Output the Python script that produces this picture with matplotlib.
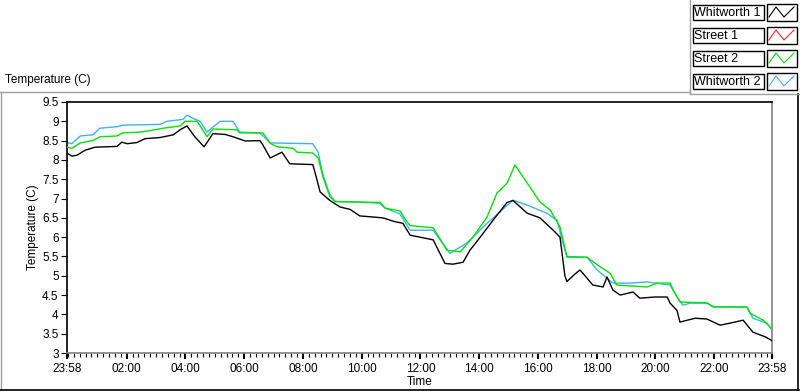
import numpy as np
import matplotlib.pyplot as plt

plt.rcParams['font.family'] = ['Liberation Sans', 'DejaVu Sans']
plt.rcParams['font.size'] = 8

# minutes since 23:58, temperature (C)
w1_min = [0, 10, 20, 37, 57, 102, 112, 123, 143, 159, 190, 217, 231, 245, 261, 280, 298,
          323, 339, 364, 394, 400, 415, 439, 455, 502, 507, 517, 537, 558, 578, 598, 645,
          670, 686, 701, 721, 748, 772, 788, 809, 823, 844, 874, 899, 911, 940, 966, 993,
          1007, 1017, 1021, 1038, 1048, 1074, 1095, 1103, 1115, 1130, 1156, 1170, 1201,
          1226, 1232, 1246, 1252, 1283, 1307, 1334, 1364, 1381, 1401, 1426, 1440]
w1_temp = [8.18, 8.10, 8.12, 8.25, 8.33, 8.35, 8.46, 8.42, 8.45, 8.55, 8.58, 8.65, 8.78,
           8.88, 8.60, 8.34, 8.68, 8.66, 8.60, 8.49, 8.50, 8.39, 8.05, 8.20, 7.90, 7.88,
           7.66, 7.17, 6.95, 6.78, 6.72, 6.55, 6.50, 6.40, 6.36, 6.05, 6.00, 5.93, 5.32,
           5.30, 5.35, 5.66, 6.00, 6.50, 6.90, 6.95, 6.62, 6.50, 6.18, 6.00, 5.00, 4.85,
           5.05, 5.15, 4.76, 4.71, 4.97, 4.63, 4.50, 4.58, 4.42, 4.45, 4.45, 4.29, 4.10,
           3.80, 3.90, 3.88, 3.72, 3.80, 3.85, 3.54, 3.42, 3.32]

s1_min = []
s1_temp = []

s2_min = [0, 10, 27, 53, 67, 102, 114, 149, 170, 196, 231, 241, 266, 286, 298, 347, 353,
          400, 415, 429, 462, 470, 502, 513, 523, 537, 547, 639, 650, 680, 694, 701, 748,
          776, 803, 829, 858, 878, 899, 915, 940, 966, 987, 1007, 1021, 1062, 1089, 1109,
          1123, 1185, 1205, 1232, 1238, 1252, 1307, 1320, 1389, 1395, 1422, 1440]
s2_temp = [8.33, 8.30, 8.44, 8.50, 8.60, 8.62, 8.70, 8.72, 8.76, 8.82, 8.88, 9.00, 9.00,
           8.60, 8.80, 8.78, 8.70, 8.70, 8.43, 8.34, 8.30, 8.20, 8.18, 8.05, 7.55, 7.05,
           6.92, 6.90, 6.75, 6.68, 6.40, 6.30, 6.24, 5.66, 5.62, 6.00, 6.52, 7.14, 7.40,
           7.87, 7.40, 6.91, 6.70, 6.26, 5.50, 5.48, 5.23, 5.07, 4.76, 4.71, 4.81, 4.81,
           4.63, 4.32, 4.30, 4.20, 4.19, 4.03, 3.85, 3.62]

w2_min = [0, 10, 27, 53, 67, 102, 114, 190, 204, 237, 245, 257, 272, 286, 298, 313, 339,
          353, 394, 415, 455, 502, 513, 523, 537, 547, 639, 650, 680, 701, 748, 782, 817,
          858, 884, 911, 940, 980, 1001, 1013, 1021, 1062, 1083, 1115, 1150, 1185, 1232,
          1246, 1258, 1273, 1307, 1320, 1389, 1401, 1430, 1440]
w2_temp = [8.45, 8.42, 8.62, 8.65, 8.82, 8.86, 8.90, 8.92, 9.00, 9.05, 9.16, 9.08, 9.00,
           8.72, 8.85, 9.00, 9.00, 8.72, 8.70, 8.44, 8.43, 8.42, 8.20, 7.60, 7.10, 6.93,
           6.88, 6.75, 6.60, 6.18, 6.18, 5.58, 5.85, 6.36, 6.65, 6.96, 6.83, 6.62, 6.44,
           5.85, 5.48, 5.48, 5.15, 4.81, 4.81, 4.84, 4.76, 4.45, 4.24, 4.29, 4.29, 4.19,
           4.19, 3.90, 3.77, 3.60]

names = ['Whitworth 1', 'Street 1', 'Street 2', 'Whitworth 2']
colors = ['#000000', '#ff2020', '#00e600', '#3cb4f0']

tick_min = [0, 122, 242, 362, 482, 602, 722, 842, 962, 1082, 1202, 1322, 1440]
tick_lab = ['23:58', '02:00', '04:00', '06:00', '08:00', '10:00', '12:00',
            '14:00', '16:00', '18:00', '20:00', '22:00', '23:58']

W, H = 800, 392
fig = plt.figure(figsize=(W / 100, H / 100), dpi=100)
fig.patch.set_facecolor('white')

# overlay in pixel coords for the panel frame and legend
bg = fig.add_axes([0, 0, 1, 1], zorder=0)
bg.set_xlim(0, W)
bg.set_ylim(H, 0)
bg.axis('off')
gray = '#a0a0a0'
bg.plot([0, 690], [91.5, 91.5], color=gray, lw=1)
bg.plot([1, 1], [91.5, 390], color=gray, lw=1)
bg.plot([0, 799], [390, 390], color='black', lw=1.2)
bg.plot([798, 798], [94, 390], color='black', lw=1.2)
bg.plot([690, 690], [0, 94], color=gray, lw=1)
bg.plot([690, 800], [94, 94], color=gray, lw=1)
bg.text(5, 80, 'Temperature (C)', ha='left', va='center', fontsize=8.5)

row_tops = [5, 28, 51, 74]
for name, c, top in zip(names, colors, row_tops):
    bg.add_patch(plt.Rectangle((692.5, top), 71, 15, fill=False, ec='black', lw=1))
    bg.text(694.5, top + 7.8, name, ha='left', va='center', fontsize=9)
    bg.add_patch(plt.Rectangle((766.5, top - 1), 30, 17, fill=False, ec='black', lw=1))
    bg.plot([769, 776, 784, 794], [top + 12, top + 2, top + 12, top + 2], color=c, lw=0.8)

ax = fig.add_axes([67 / W, 39 / H, 705 / W, 251 / H], zorder=1)
ax.set_facecolor('white')
ax.plot(w2_min, w2_temp, color=colors[3], lw=1.0, zorder=2)
ax.plot(s1_min, s1_temp, color=colors[1], lw=1.0, zorder=2)
ax.plot(s2_min, s2_temp, color=colors[2], lw=1.0, zorder=3)
ax.plot(w1_min, w1_temp, color=colors[0], lw=1.0, zorder=4)

ax.set_xlim(0, 1440)
ax.set_ylim(3, 9.5)
ax.set_xticks(tick_min)
ax.set_xticklabels(tick_lab)
ax.set_xticks(np.arange(2, 1440, 12), minor=True)
ax.set_yticks(np.arange(3, 9.51, 0.5))
ax.set_yticklabels(['3', '3.5', '4', '4.5', '5', '5.5', '6', '6.5', '7',
                    '7.5', '8', '8.5', '9', '9.5'])
ax.tick_params(axis='x', which='major', length=4, width=1.5, pad=3, labelsize=8.5)
ax.tick_params(axis='x', which='minor', length=3, width=0.8)
ax.tick_params(axis='y', length=4, width=0.8, pad=2, labelsize=8.5)
for s in ['left', 'top']:
    ax.spines[s].set_color('black')
for s in ['right', 'bottom']:
    ax.spines[s].set_color('#808080')
for s in ax.spines.values():
    s.set_linewidth(1.2)
ax.set_xlabel('Time', fontsize=8.5, labelpad=1)
ax.set_ylabel('Temperature (C)', fontsize=8.5, labelpad=2)

fig.savefig('out.png', dpi=100)
